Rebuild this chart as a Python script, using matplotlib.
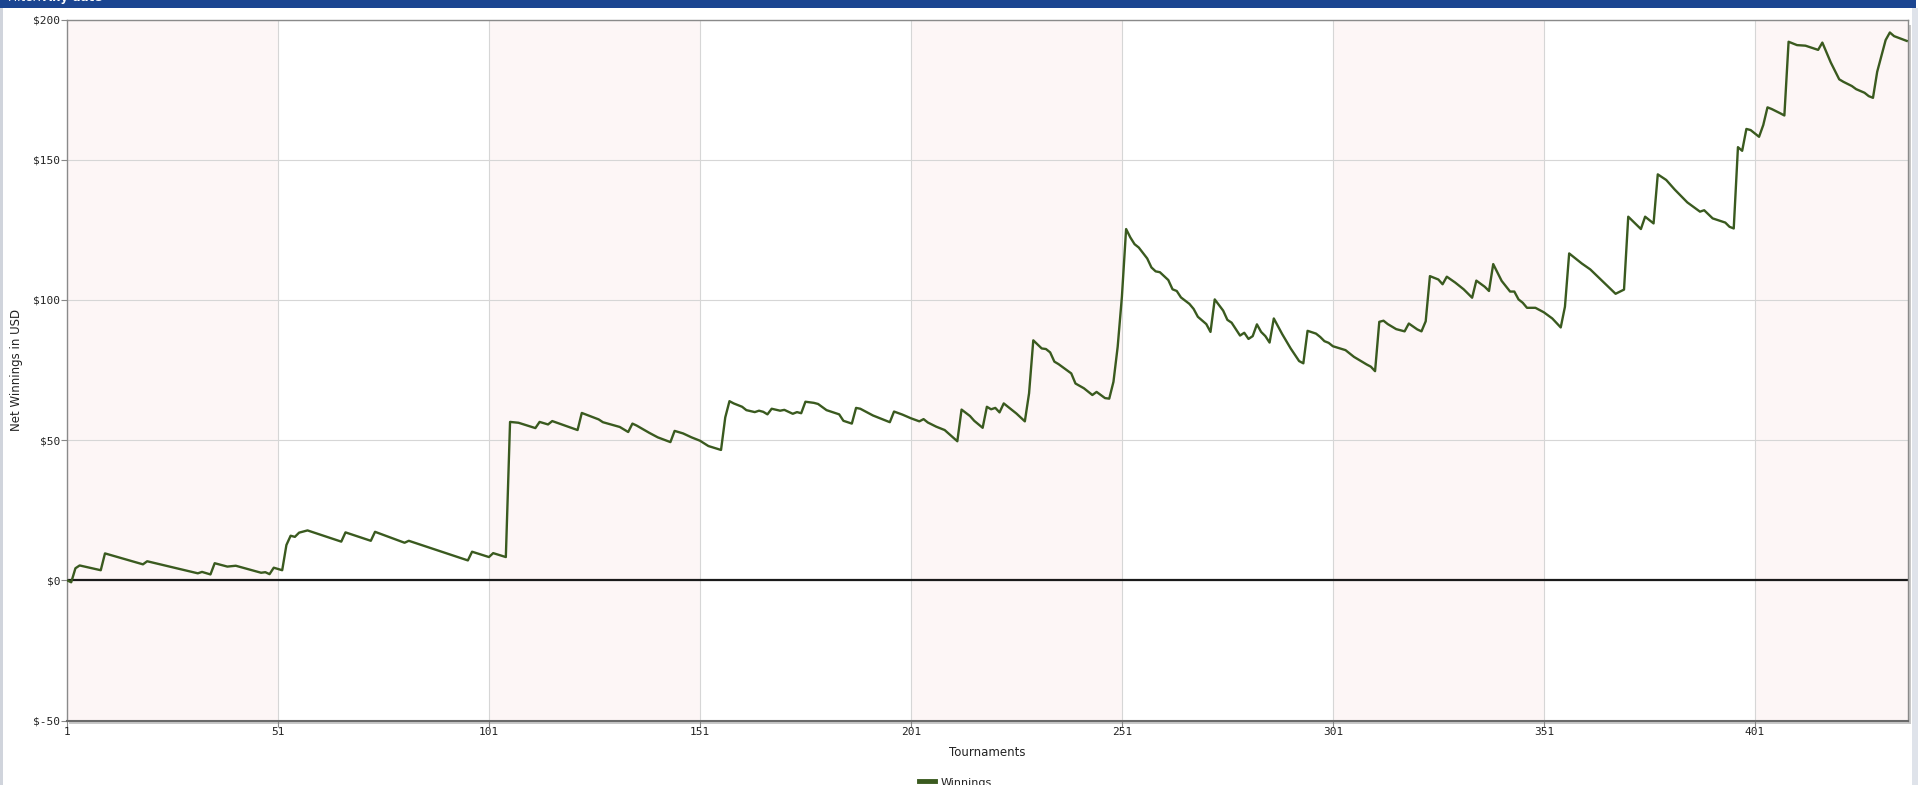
import matplotlib
matplotlib.use("Agg")
import matplotlib.pyplot as plt
from matplotlib.patches import Rectangle
from matplotlib.lines import Line2D
import matplotlib.ticker as mticker

# ---- data (vertices) ----
tournaments = [1, 2, 3, 4, 9, 10, 19, 20, 32, 33, 35, 36, 39, 41, 47, 48, 49, 50, 52, 53,
               54, 55, 56, 58, 66, 67, 73, 74, 81, 82, 96, 97, 101, 102, 105, 106, 108, 112, 113, 115,
               116, 122, 123, 127, 128, 132, 134, 135, 136, 139, 141, 144, 145, 147, 149, 151, 153, 156, 157, 158,
               159, 161, 162, 164, 165, 166, 167, 168, 170, 171, 173, 174, 175, 176, 178, 179, 181, 184, 185, 187,
               188, 189, 192, 194, 196, 197, 199, 201, 203, 204, 205, 207, 209, 212, 213, 215, 216, 218, 219, 220,
               221, 222, 223, 226, 228, 229, 230, 232, 233, 234, 235, 236, 239, 240, 242, 244, 245, 247, 248, 249,
               250, 251, 252, 253, 254, 255, 257, 258, 259, 260, 262, 263, 264, 265, 267, 268, 269, 271, 272, 273,
               275, 276, 277, 279, 280, 281, 282, 283, 284, 285, 286, 287, 289, 291, 293, 294, 295, 297, 298, 299,
               300, 301, 304, 306, 307, 309, 310, 311, 312, 313, 314, 316, 318, 319, 321, 322, 323, 324, 326, 327,
               328, 330, 332, 334, 335, 337, 338, 339, 341, 343, 344, 345, 346, 347, 349, 351, 353, 355, 356, 357,
               359, 360, 362, 368, 370, 371, 374, 375, 377, 378, 380, 382, 385, 388, 389, 391, 394, 395, 396, 397,
               398, 399, 400, 402, 403, 404, 405, 407, 408, 409, 411, 413, 414, 416, 417, 418, 419, 421, 422, 424,
               425, 427, 428, 429, 430, 432, 433, 434, 437]
winnings = [0.0, -0.7, 4.3, 5.3, 3.6, 9.6, 5.7, 6.8, 2.5, 3.0, 2.1, 6.1, 4.9, 5.2, 2.7, 2.9, 2.2, 4.5, 3.6, 12.6,
            15.9, 15.5, 17.0, 17.8, 13.8, 17.1, 14.1, 17.3, 13.4, 14.1, 7.1, 10.2, 8.3, 9.7, 8.3, 56.5, 56.2, 54.3, 56.5, 55.6,
            56.8, 53.6, 59.7, 57.4, 56.4, 54.7, 52.9, 55.9, 55.2, 52.6, 51.0, 49.3, 53.3, 52.4, 51.0, 49.8, 47.9, 46.5, 58.1, 63.9,
            63.1, 61.9, 60.7, 60.0, 60.5, 60.1, 59.2, 61.2, 60.5, 60.8, 59.4, 60.0, 59.6, 63.7, 63.3, 62.9, 60.7, 59.2, 56.9, 55.9,
            61.5, 61.2, 58.8, 57.6, 56.4, 60.2, 59.1, 57.8, 56.7, 57.5, 56.3, 54.8, 53.6, 49.6, 60.9, 58.6, 56.9, 54.4, 61.9, 61.0,
            61.5, 59.9, 63.1, 59.5, 56.7, 66.7, 85.6, 82.7, 82.5, 81.3, 78.0, 77.1, 73.8, 70.2, 68.5, 66.1, 67.2, 65.0, 64.8, 70.8,
            83.3, 101.1, 125.3, 122.3, 119.9, 118.7, 114.8, 111.6, 110.2, 109.9, 107.1, 103.8, 103.2, 100.9, 98.6, 96.8, 94.0, 91.4, 88.6, 100.2,
            96.2, 92.9, 91.9, 87.3, 88.3, 86.1, 87.1, 91.3, 88.6, 87.1, 84.8, 93.4, 87.8, 82.7, 78.2, 77.4, 89.0, 88.0, 86.8, 85.3,
            84.7, 83.5, 82.1, 79.7, 78.8, 77.0, 76.2, 74.6, 92.2, 92.6, 91.4, 89.6, 88.8, 91.6, 89.5, 88.8, 92.4, 108.5, 107.3, 105.6,
            108.3, 106.2, 103.8, 100.8, 106.9, 104.7, 103.2, 112.8, 106.8, 103.0, 103.0, 100.2, 99.0, 97.2, 97.2, 95.6, 93.4, 90.2, 97.6, 116.6,
            114.2, 113.0, 110.9, 102.2, 103.7, 129.7, 125.3, 129.7, 127.3, 144.8, 142.8, 139.4, 134.8, 131.5, 132.0, 129.1, 127.6, 126.1, 125.5, 154.5,
            153.2, 161.0, 160.6, 158.2, 162.4, 168.7, 168.1, 166.6, 165.8, 192.1, 190.9, 190.7, 190.2, 189.2, 191.8, 188.3, 184.7, 178.7, 177.8, 176.3,
            175.2, 173.9, 172.7, 172.1, 181.4, 192.7, 195.4, 194.1, 192.4]

x_ticks = [1, 51, 101, 151, 201, 251, 301, 351, 401]
y_ticks = [-50, 0, 50, 100, 150, 200]
x_label = "Tournaments"
y_label = "Net Winnings in USD"
series_name = "Winnings"
filter_text = "Filter: "
filter_value = "Any date"

W, H = 1918, 785
fig = plt.figure(figsize=(W / 100, H / 100), dpi=100)
fig.patch.set_facecolor("white")

# page decorations: blue header bar, side strips
fig.add_artist(Rectangle((0, 1 - 7.5 / H), 1916 / W, 7.5 / H, transform=fig.transFigure,
                         facecolor="#1b4591", edgecolor="none", zorder=0))
fig.add_artist(Rectangle((1912 / W, 0), 6 / W, 1 - 7.5 / H, transform=fig.transFigure,
                         facecolor="#dfe3ea", edgecolor="none", zorder=0))
fig.add_artist(Rectangle((0, 0), 2.5 / W, 1 - 7.5 / H, transform=fig.transFigure,
                         facecolor="#d0d4dc", edgecolor="none", zorder=0))
fig.text(8 / W, 1 + 2.5 / H, filter_text, color="white", fontsize=8.5, ha="left", va="center",
         fontfamily="DejaVu Sans")
fig.text(43 / W, 1 + 2.5 / H, filter_value, color="white", fontsize=8.5, ha="left", va="center",
         fontweight="bold", fontfamily="DejaVu Sans")

left, right, top, bottom = 67, 1908, 19.6, 720.5
ax = fig.add_axes([left / W, 1 - bottom / H, (right - left) / W, (bottom - top) / H])

# shadow of the plot frame
fig.add_artist(Rectangle((left / W + 2 / W, 1 - bottom / H - 3 / H), (right - left) / W, 3 / H,
                         transform=fig.transFigure, facecolor="#c8c8c8", edgecolor="none", zorder=0))
fig.add_artist(Rectangle((right / W, 1 - bottom / H - 3 / H), 3 / W, (bottom - top - 2) / H,
                         transform=fig.transFigure, facecolor="#c8c8c8", edgecolor="none", zorder=0))

xmax = 437.3
ax.set_xlim(1, xmax)
ax.set_ylim(-50, 200)
ax.set_facecolor("white")

# alternating bands
starts = list(range(1, int(xmax) + 1, 100))
for s in starts:
    ax.axvspan(s, min(s + 50, xmax), facecolor="#fdf6f6", edgecolor="none", zorder=0)

ax.set_xticks(x_ticks)
ax.set_yticks(y_ticks)
ax.yaxis.set_major_formatter(mticker.FuncFormatter(lambda v, p: f"${int(v)}"))
ax.grid(True, color="#d6d6d6", linewidth=0.8, zorder=1)
ax.set_axisbelow(True)

ax.axhline(0, color="#1a1a1a", linewidth=1.6, zorder=2)
ax.plot(tournaments, winnings, color="#3a5a1f", linewidth=1.7, zorder=3,
        solid_joinstyle="round")

for sp in ax.spines.values():
    sp.set_color("#8a8a8a")
    sp.set_linewidth(1.0)
ax.spines["bottom"].set_color("#6a6a6a")
ax.spines["bottom"].set_linewidth(1.5)

ax.tick_params(axis="both", colors="#888888", labelcolor="#222222", length=4, width=0.8,
               labelsize=8, pad=1)
for lab in ax.get_xticklabels() + ax.get_yticklabels():
    lab.set_fontfamily("DejaVu Sans Mono")

fig.text((left + right) / 2 / W, 1 - 752 / H, x_label, ha="center", va="center",
         fontsize=8.5, color="#222222", fontfamily="DejaVu Sans")
fig.text(17 / W, 1 - 370 / H, y_label, ha="center", va="center", rotation=90,
         fontsize=8.5, color="#222222", fontfamily="DejaVu Sans")

# legend (cut at bottom like the reference)
fig.add_artist(Line2D([919 / W, 935 / W], [1 - 781 / H, 1 - 781 / H], transform=fig.transFigure,
                      color="#3a5a1f", linewidth=3.5))
fig.text(941 / W, 1 - 783 / H, series_name, ha="left", va="center", fontsize=8,
         color="#222222", fontfamily="DejaVu Sans")

fig.savefig("out.png", dpi=100, facecolor="white")
